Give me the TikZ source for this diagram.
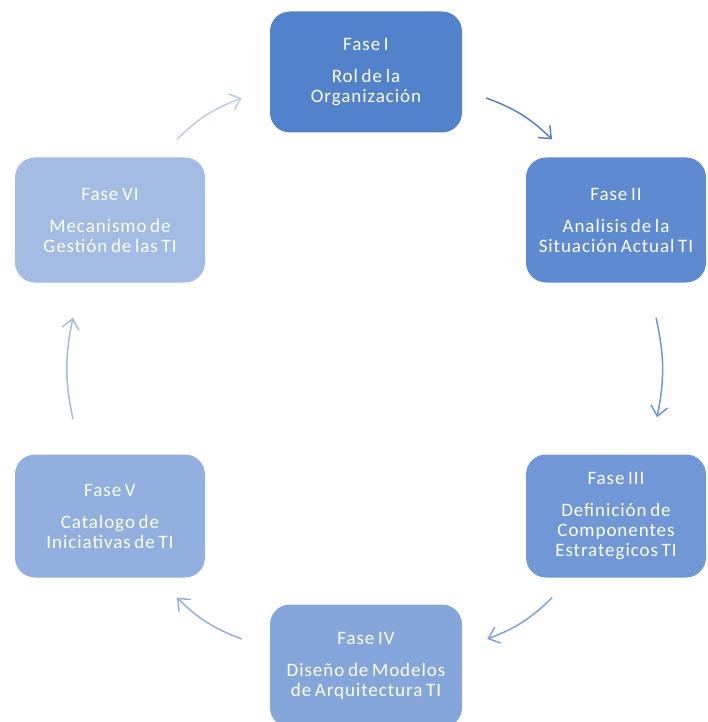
\documentclass[tikz,border=0pt]{standalone}
\usepackage{fontspec}
\setmainfont{Carlito}
\newfontfamily\fasefont[LetterSpace=5,WordSpace=0.7]{Carlito}
\usepackage{tikz}
\usetikzlibrary{shapes, arrows.meta, positioning}

\definecolor{faseA}{HTML}{5282CC}
\definecolor{faseB}{HTML}{5E8AD1}
\definecolor{faseC}{HTML}{7098D6}
\definecolor{faseD}{HTML}{84A6DB}
\definecolor{faseE}{HTML}{91B0DF}
\definecolor{faseF}{HTML}{A2BCE4}

\tikzset{
  fase/.style={rectangle, rounded corners=20pt, draw=none, text=white,
               minimum width=190pt, minimum height=123pt, align=center,
               font=\fasefont\fontsize{19}{20}\selectfont},
  ciclo/.style={-{Straight Barb[length=10pt,width=17pt]}, line width=1.5pt, bend left=12}
}

\begin{document}
\begin{tikzpicture}[x=1pt, y=-1pt]
  \useasboundingbox (0,0) rectangle (707,722);
  \node[fase, fill=faseA, minimum width=192pt, minimum height=121pt] (f1) at (366,72)
       {Fase I\\[12pt]Rol de la\\Organización};
  \node[fase, fill=faseB, minimum width=180pt, minimum height=125pt] (f2) at (616,220)
       {Fase II\\[12pt]Analisis de la\\Situación Actual TI};
  \node[fase, fill=faseC, minimum width=180pt] (f3) at (616,516)
       {Fase III\\[12pt]Definición de\\Componentes\\Estrategicos TI};
  \node[fase, fill=faseD, minimum width=192pt] (f4) at (366,666)
       {Fase IV\\[12pt]Diseño de Modelos\\de Arquitectura TI};
  \node[fase, fill=faseE] (f5) at (110,516)
       {Fase V\\[12pt]Catalogo de\\Iniciativas de TI};
  \node[fase, fill=faseF, minimum height=125pt] (f6) at (110,220)
       {Fase VI\\[12pt]Mecanismo de\\Gestión de las TI};

  % flechas del ciclo
  \draw[ciclo, draw=faseA] ([shift={(24,26)}]f1.east) to ([shift={(-64,-18)}]f2.north);
  \draw[ciclo, draw=faseB!90!white] ([shift={(40,35)}]f2.south) to ([shift={(41,-37)}]f3.north);
  \draw[ciclo, draw=faseC!90!white] ([shift={(-64,20)}]f3.south) to ([shift={(25,-27)}]f4.east);
  \draw[ciclo, draw=faseD!90!white] ([shift={(-28,-27)}]f4.west) to ([shift={(67,20)}]f5.south);
  \draw[ciclo, draw=faseE!85!white] ([shift={(-37,-35)}]f5.north) to ([shift={(-37,35)}]f6.south);
  \draw[ciclo, draw=faseF!75!white] ([shift={(67,-18)}]f6.north) to ([shift={(-28,26)}]f1.west);
\end{tikzpicture}
\end{document}
